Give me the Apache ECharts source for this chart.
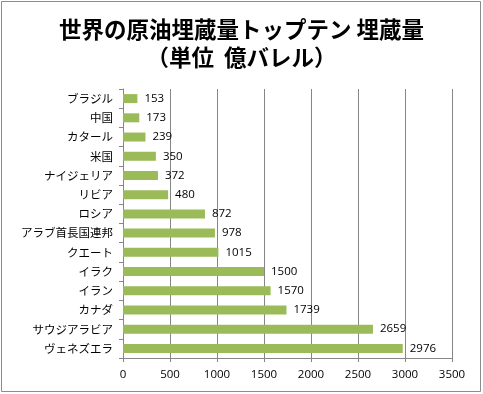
<!DOCTYPE html>
<html><head><meta charset="utf-8">
<script src="https://cdn.jsdelivr.net/npm/echarts@6/dist/echarts.min.js"></script>
<style>html,body{margin:0;padding:0;background:#fff}#c{width:483px;height:394px}</style>
</head><body><div id="c"></div>
<script>
const categories = ['ブラジル','中国','カタール','米国','ナイジェリア','リビア','ロシア','アラブ首長国連邦','クエート','イラク','イラン','カナダ','サウジアラビア','ヴェネズエラ'];
const values = [153,173,239,350,372,480,872,978,1015,1500,1570,1739,2659,2976];
const titleLines = ['世界の原油埋蔵量トップテン 埋蔵量','（単位  億バレル）'];
const xTicks = [0,500,1000,1500,2000,2500,3000,3500];

const chart = echarts.init(document.getElementById('c'), null, {renderer:'canvas'});
const font = '"Noto Sans CJK JP", sans-serif';
const numFont = '"Open Sans", "Noto Sans", sans-serif';
chart.setOption({
  animation:false,
  backgroundColor:'#fff',
  graphic:[{type:'rect',shape:{x:1.5,y:1.5,width:479,height:390},style:{fill:'none',stroke:'#8c8c8c',lineWidth:1}}],
  title:{text:titleLines.join('\n'),left:'center',top:10,
    textStyle:{fontFamily:font,fontSize:22.5,fontWeight:'bold',color:'#000',lineHeight:28}},
  grid:{left:123,right:31,top:89,bottom:36,containLabel:false},
  xAxis:{type:'value',min:xTicks[0],max:xTicks[xTicks.length-1],interval:500,
    axisLine:{show:true,lineStyle:{color:'#868686'}},
    axisTick:{show:true,length:4,lineStyle:{color:'#868686'}},
    axisLabel:{fontFamily:numFont,fontSize:11.5,color:'#000',margin:11,formatter:v=>String(v)},
    splitLine:{show:true,lineStyle:{color:'#868686'}}},
  yAxis:{type:'category',data:categories,inverse:true,
    axisLine:{show:true,lineStyle:{color:'#868686'}},
    axisTick:{show:true,length:4,lineStyle:{color:'#868686'}},
    axisLabel:{fontFamily:font,fontSize:11.5,color:'#000',margin:10}},
  series:[{type:'bar',data:values,barWidth:9,
    itemStyle:{color:'#9BBB59'},
    label:{show:true,position:'right',distance:7,fontFamily:numFont,fontSize:11.5,color:'#000',formatter:p=>String(p.value)}}]
});
</script></body></html>
